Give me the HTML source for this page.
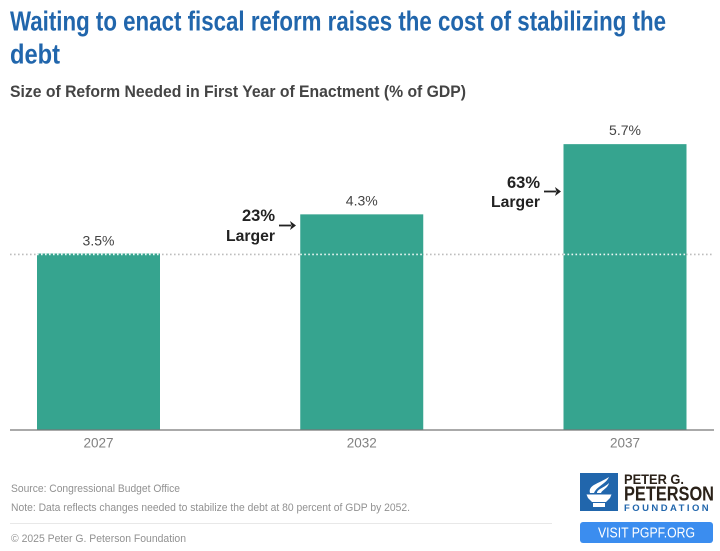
<!DOCTYPE html>
<html lang="en">
<head>
<meta charset="utf-8">
<title>Waiting to enact fiscal reform raises the cost of stabilizing the debt</title>
<style>
html,body{margin:0;padding:0;background:#fff;width:720px;height:551px;overflow:hidden}
svg{display:block;font-family:"Liberation Sans",sans-serif}
</style>
</head>
<body>
<svg id="chart" width="720" height="551" viewBox="0 0 720 551" xmlns="http://www.w3.org/2000/svg">
  <rect width="720" height="551" fill="#ffffff"/>
  <text x="10" y="30.5" font-size="28" font-weight="700" fill="#2166ac" textLength="656" lengthAdjust="spacingAndGlyphs">Waiting to enact fiscal reform raises the cost of stabilizing the</text>
  <text x="10" y="63.5" font-size="28" font-weight="700" fill="#2166ac" textLength="50" lengthAdjust="spacingAndGlyphs">debt</text>
  <text x="10" y="97" font-size="16.5" font-weight="700" fill="#444444" textLength="456" lengthAdjust="spacingAndGlyphs">Size of Reform Needed in First Year of Enactment (% of GDP)</text>

  <g id="plot"></g>

  <text x="275" y="221" font-size="16.5" font-weight="700" fill="#222222" text-anchor="end">23%</text>
  <text x="275" y="241" font-size="16" font-weight="700" fill="#222222" text-anchor="end" textLength="49" lengthAdjust="spacingAndGlyphs">Larger</text>
  <g>
    <path d="M279 224.6H291V226.4H279Z" fill="#222222"/>
    <path d="M290 221L296 225.5L290 230L291.5 225.5Z" fill="#222222"/>
  </g>
  <text x="540" y="188" font-size="16.5" font-weight="700" fill="#222222" text-anchor="end">63%</text>
  <text x="540" y="207" font-size="16" font-weight="700" fill="#222222" text-anchor="end" textLength="49" lengthAdjust="spacingAndGlyphs">Larger</text>
  <g>
    <path d="M544 190.6H556V192.4H544Z" fill="#222222"/>
    <path d="M555 187L561 191.5L555 196L556.5 191.5Z" fill="#222222"/>
  </g>

  <text x="11" y="492" font-size="11" fill="#919191" textLength="169" lengthAdjust="spacingAndGlyphs">Source: Congressional Budget Office</text>
  <text x="11" y="511" font-size="11" fill="#919191" textLength="399" lengthAdjust="spacingAndGlyphs">Note: Data reflects changes needed to stabilize the debt at 80 percent of GDP by 2052.</text>
  <line x1="10" y1="523.5" x2="552" y2="523.5" stroke="#e8e8e8" stroke-width="1"/>
  <text x="11" y="542" font-size="11.2" fill="#919191" textLength="175" lengthAdjust="spacingAndGlyphs">© 2025 Peter G. Peterson Foundation</text>

  <g>
    <rect x="580" y="473" width="38" height="38" fill="#2166ac"/>
    <g fill="#ffffff">
      <path d="M586.5 494.5H611.5L610 498L606 502H592L588 498Z"/>
      <rect x="593" y="503" width="12" height="4"/>
      <path d="M590 493C588 485 598 484 609 477C606 484 597 486 594 493Z"/>
      <path d="M597 493C597 489 604 488 609 483C608 488 602 490 601 493Z"/>
    </g>
    <text x="624" y="484" font-size="14" font-weight="700" fill="#2a2118" textLength="60" lengthAdjust="spacingAndGlyphs">PETER G.</text>
    <text x="624" y="500.5" font-size="20" font-weight="700" fill="#2a2118" textLength="90" lengthAdjust="spacingAndGlyphs">PETERSON</text>
    <text x="624" y="511" font-size="9.5" font-weight="700" fill="#2166ac" letter-spacing="2.45">FOUNDATION</text>
  </g>
  <g>
    <rect x="580" y="522" width="133" height="21" rx="3" fill="#3b8def"/>
    <text x="646.5" y="537.5" font-size="14.5" fill="#ffffff" text-anchor="middle" textLength="97" lengthAdjust="spacingAndGlyphs">VISIT PGPF.ORG</text>
  </g>
</svg>
<script>
const categories = ['2027', '2032', '2037'];
const reformValues = [3.5, 4.3, 5.7];
const valueLabels = ['3.5%', '4.3%', '5.7%'];
const referenceValue = 3.5;

const NS = 'http://www.w3.org/2000/svg';
const plot = document.getElementById('plot');
const baselineY = 430;
const pixelsPerUnit = 50.15;
const firstBandCenter = 98.5;
const bandStep = 263.25;
const barWidth = 123;
const yScale = v => baselineY - v * pixelsPerUnit;
const xScale = i => firstBandCenter + i * bandStep;

categories.forEach((category, i) => {
  const bar = document.createElementNS(NS, 'rect');
  
  
  bar.setAttribute('x', xScale(i) - barWidth / 2);
  bar.setAttribute('y', yScale(reformValues[i]));
  bar.setAttribute('width', barWidth);
  bar.setAttribute('height', baselineY - yScale(reformValues[i]));
  bar.setAttribute('fill', '#36a48f');
  plot.appendChild(bar);

  const valueText = document.createElementNS(NS, 'text');
  
  
  valueText.setAttribute('x', xScale(i));
  valueText.setAttribute('y', yScale(reformValues[i]) - 9);
  valueText.setAttribute('font-size', '14');
  valueText.setAttribute('fill', '#444444');
  valueText.setAttribute('text-anchor', 'middle');
  valueText.textContent = valueLabels[i];
  plot.appendChild(valueText);

  const tickText = document.createElementNS(NS, 'text');
  
  
  tickText.setAttribute('x', xScale(i));
  tickText.setAttribute('y', 447.5);
  tickText.setAttribute('font-size', '13.5');
  tickText.setAttribute('fill', '#808080');
  tickText.setAttribute('text-anchor', 'middle');
  tickText.textContent = category;
  plot.appendChild(tickText);
});

const referenceLine = document.createElementNS(NS, 'line');


referenceLine.setAttribute('x1', 10);
referenceLine.setAttribute('x2', 714);
referenceLine.setAttribute('y1', yScale(referenceValue));
referenceLine.setAttribute('y2', yScale(referenceValue));
referenceLine.setAttribute('stroke', '#bdbdbd');
referenceLine.setAttribute('stroke-width', '1.6');
referenceLine.setAttribute('stroke-dasharray', '1.6 2.4');
plot.appendChild(referenceLine);

categories.forEach((category, i) => {
  const overlay = document.createElementNS(NS, 'line');
  
  
  overlay.setAttribute('x1', xScale(i) - barWidth / 2);
  overlay.setAttribute('x2', xScale(i) + barWidth / 2);
  overlay.setAttribute('y1', yScale(referenceValue));
  overlay.setAttribute('y2', yScale(referenceValue));
  overlay.setAttribute('stroke', '#36a48f');
  overlay.setAttribute('stroke-width', '2');
  plot.appendChild(overlay);

  const overlayDots = document.createElementNS(NS, 'line');
  
  
  overlayDots.setAttribute('x1', xScale(i) - barWidth / 2);
  overlayDots.setAttribute('x2', xScale(i) + barWidth / 2);
  overlayDots.setAttribute('y1', yScale(referenceValue));
  overlayDots.setAttribute('y2', yScale(referenceValue));
  overlayDots.setAttribute('stroke', '#eef8f6');
  overlayDots.setAttribute('stroke-width', '1.6');
  overlayDots.setAttribute('stroke-dasharray', '1.6 2.4');
  plot.appendChild(overlayDots);
});

const axisLine = document.createElementNS(NS, 'line');


axisLine.setAttribute('x1', 10);
axisLine.setAttribute('x2', 714);
axisLine.setAttribute('y1', baselineY);
axisLine.setAttribute('y2', baselineY);
axisLine.setAttribute('stroke', '#777777');
axisLine.setAttribute('stroke-width', '1.2');
plot.appendChild(axisLine);
</script>
</body>
</html>
